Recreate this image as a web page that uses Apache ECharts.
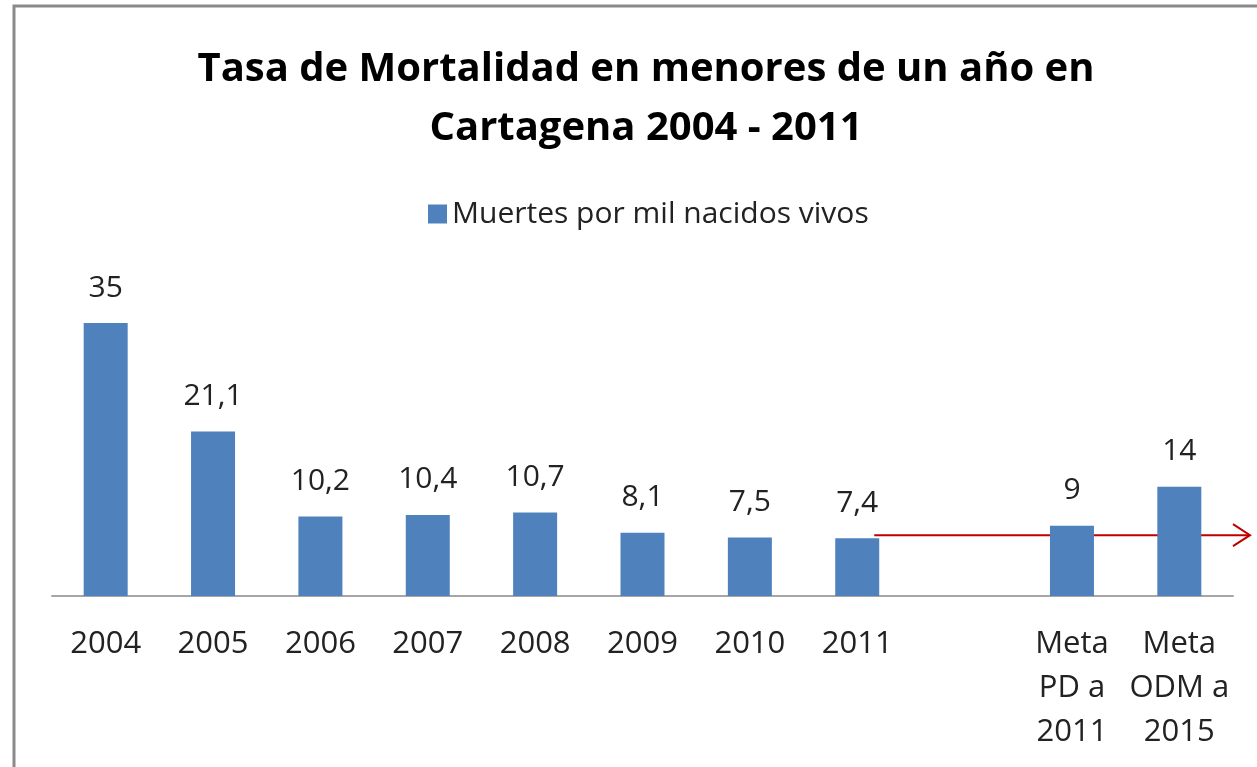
<!DOCTYPE html>
<html>
<head>
<meta charset="utf-8">
<title>Tasa de Mortalidad en menores de un año en Cartagena 2004 - 2011</title>
<script src="https://cdn.jsdelivr.net/npm/echarts@6/dist/echarts.min.js"></script>
<style>
  html, body { margin: 0; padding: 0; background: #ffffff; }
  #chart { width: 1257px; height: 767px; }
</style>
</head>
<body>
<div id="chart"></div>
<script>
// Categories: yearly values, a spacer slot, then the two targets
const categories = ['2004', '2005', '2006', '2007', '2008', '2009', '2010', '2011', '',
  'Meta\nPD a\n2011', 'Meta\nODM a\n2015'];
// Deaths per thousand live births ('-' leaves the spacer slot empty)
const deathsPerThousand = [35, 21.1, 10.2, 10.4, 10.7, 8.1, 7.5, 7.4, '-', 9, 14];
// Level of the red reference arrow (latest observed rate carried forward)
const arrowLevel = 7.8;
const seriesName = 'Muertes por mil nacidos vivos';

const chart = echarts.init(document.getElementById('chart'));
const FONT = 'Open Sans';

chart.setOption({
  animation: false,
  backgroundColor: '#ffffff',
  textStyle: { fontFamily: FONT },
  title: {
    text: 'Tasa de Mortalidad en menores de un año en\nCartagena 2004 - 2011',
    left: 641,
    textAlign: 'center',
    top: 35,
    textStyle: { fontFamily: FONT, fontSize: 40, fontWeight: 'bold', color: '#000000', lineHeight: 59 }
  },
  legend: {
    data: [seriesName],
    top: 194,
    left: 423,
    itemWidth: 19,
    itemHeight: 19,
    itemGap: 8,
    icon: 'rect',
    textStyle: { fontFamily: FONT, fontSize: 30, color: '#222222' }
  },
  grid: { left: 52, right: 24, top: 284, bottom: 171 },
  xAxis: {
    type: 'category',
    data: categories,
    axisLine: { lineStyle: { color: '#a6a6a6', width: 2 } },
    axisTick: { show: false },
    axisLabel: {
      interval: 0,
      margin: 26,
      fontFamily: FONT,
      fontSize: 31,
      color: '#222222',
      lineHeight: 44
    }
  },
  yAxis: {
    type: 'value',
    min: 0,
    max: 40,
    show: false,
    splitLine: { show: false }
  },
  series: [{
    name: seriesName,
    type: 'bar',
    data: deathsPerThousand,
    barWidth: 44,
    itemStyle: { color: '#4f81bd' },
    label: {
      show: true,
      position: 'top',
      distance: 20,
      fontFamily: FONT,
      fontSize: 30,
      color: '#222222',
      formatter: p => String(p.value).replace('.', ',')
    }
  }]
});

// Outer frame and the red arrow, positioned from the axis scales
function drawOverlay() {
  const barHalf = 22;
  const idx2011 = categories.indexOf('2011');
  const lastIdx = categories.length - 1;
  const p2011 = chart.convertToPixel({ seriesIndex: 0 }, [idx2011, arrowLevel]);
  const pLast = chart.convertToPixel({ seriesIndex: 0 }, [lastIdx, arrowLevel]);
  const pPrev = chart.convertToPixel({ seriesIndex: 0 }, [lastIdx - 1, arrowLevel]);
  const band = pLast[0] - pPrev[0];
  const x0 = p2011[0] + barHalf - 5;
  const x1 = pLast[0] + band / 2 + 17;
  const y = p2011[1];
  chart.setOption({
    graphic: [
      {
        type: 'rect',
        shape: { x: 14, y: 6, width: 1400, height: 900 },
        style: { fill: 'none', stroke: '#8a8a8a', lineWidth: 3 },
        silent: true
      },
      {
        type: 'line',
        shape: { x1: x0, y1: y, x2: x1 - 1, y2: y },
        style: { stroke: '#c00000', lineWidth: 2 },
        silent: true
      },
      {
        type: 'polyline',
        shape: { points: [[x1 - 17, y - 11], [x1, y], [x1 - 17, y + 11]] },
        style: { stroke: '#c00000', lineWidth: 2, fill: 'none' },
        silent: true
      }
    ]
  });
}
drawOverlay();
</script>
</body>
</html>
